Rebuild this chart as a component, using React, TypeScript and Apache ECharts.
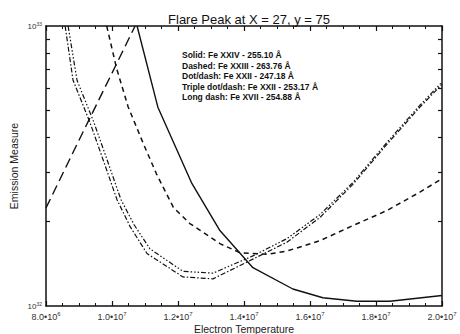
import React, { useEffect, useRef } from 'react';
import * as echarts from 'echarts';

const TITLE = 'Flare Peak at X = 27, y = 75';
const X_NAME = 'Electron Temperature';
const Y_NAME = 'Emission Measure';

// Temperatures in units of 1e6 K, emission measures in units of 1e32
const SOLID_T = [10.76, 11.39, 12.42, 13.27, 14.27, 15.48, 16.39, 17.42, 18.42, 20.0];
const SOLID_EM = [10, 5.13, 2.74, 1.86, 1.37, 1.15, 1.07, 1.04, 1.04, 1.09];

const DASHED_T = [9.84, 10.14, 10.49, 10.95, 11.35, 11.86, 12.36, 13.27, 13.88, 14.69, 15.29, 16.3, 17.31, 18.32, 19.33, 20.0];
const DASHED_EM = [10, 7.05, 5.14, 3.8, 2.96, 2.25, 1.97, 1.67, 1.55, 1.53, 1.57, 1.71, 1.94, 2.19, 2.55, 2.85];

const DOTDASH_T = [8.58, 8.82, 9.33, 9.73, 10.15, 10.55, 11.06, 12.15, 13.06, 14.27, 15.3, 16.3, 17.3, 18.33, 19.33, 20.0];
const DOTDASH_EM = [10, 6.4, 4.53, 3.33, 2.4, 1.92, 1.54, 1.27, 1.25, 1.47, 1.69, 2.07, 2.72, 3.78, 5.13, 6.19];

const TRIPLE_T = [8.67, 8.94, 9.45, 9.85, 10.27, 10.67, 11.15, 12.15, 13.06, 14.27, 15.3, 16.3, 17.3, 18.33, 19.33, 20.0];
const TRIPLE_EM = [10, 6.4, 4.53, 3.33, 2.4, 1.95, 1.6, 1.33, 1.31, 1.51, 1.74, 2.12, 2.76, 3.84, 5.21, 6.3];

const LONG_T = [8.0, 9.0, 10.0, 10.7];
const LONG_EM = [2.24, 3.91, 6.79, 10];

const LEGEND_LINES = [
  'Solid: Fe XXIV - 255.10 Å',
  'Dashed: Fe XXIII - 263.76 Å',
  'Dot/dash: Fe XXII - 247.18 Å',
  'Triple dot/dash: Fe XXII - 253.17 Å',
  'Long dash: Fe XVII - 254.88 Å',
];

const Y_MINOR = [2, 3, 4, 5, 6, 7, 8, 9];

const FONT = '"Liberation Sans", Arial, Helvetica, sans-serif';
const INK = '#111';

const pairs = (t: number[], em: number[]) => t.map((v, i) => [v * 1e6, em[i] * 1e32]);

const xLabel = (v: number) => {
  const e = Math.floor(Math.log10(v) + 1e-9);
  const m = v / Math.pow(10, e);
  return `{m|${m.toFixed(1)}•10}{e|${e}}`;
};
const yLabel = (v: number) => `{m|10}{e|${Math.round(Math.log10(v))}}`;

const xAxisBase = (pos: 'bottom' | 'top', labels: boolean) => ({
  type: 'value',
  position: pos,
  min: 8e6,
  max: 2e7,
  interval: 2e6,
  axisLine: { show: true, onZero: false, lineStyle: { color: INK, width: 1.5 } },
  axisTick: { show: true, inside: true, length: 5, lineStyle: { color: INK, width: 1.2 } },
  minorTick: { show: true, splitNumber: 4, length: 3, lineStyle: { color: INK, width: 1 } },
  splitLine: { show: false },
  minorSplitLine: { show: false },
  axisLabel: labels
    ? {
        show: true,
        margin: 5,
        formatter: xLabel,
        rich: {
          m: { fontSize: 9, color: '#333', fontFamily: FONT, lineHeight: 11 },
          e: { fontSize: 6, color: '#333', fontFamily: FONT, verticalAlign: 'top', lineHeight: 6 },
        },
      }
    : { show: false },
});

const tickAxis = (pos: 'left' | 'right', line: boolean) => ({
  type: 'value',
  position: pos,
  min: 0,
  max: 1,
  axisLine: { show: line, onZero: false, lineStyle: { color: INK, width: 1.5 } },
  axisTick: {
    show: true,
    inside: true,
    length: 4,
    customValues: Y_MINOR.map((k) => Math.log10(k)),
    lineStyle: { color: INK, width: 1.2 },
  },
  axisLabel: { show: false },
  splitLine: { show: false },
});

export default function App() {
  const ref = useRef<HTMLDivElement>(null);
  useEffect(() => {
    if (!ref.current) return;
    const chart = echarts.init(ref.current, undefined, { renderer: 'svg' });
    const line = (name: string, data: number[][], type: any, width: number) => ({
      name,
      type: 'line',
      data,
      showSymbol: false,
      symbol: 'none',
      clip: true,
      xAxisIndex: 0,
      yAxisIndex: 0,
      lineStyle: { color: INK, width, type },
    });
    chart.setOption({
      animation: false,
      backgroundColor: '#fff',
      title: {
        text: TITLE,
        left: 244,
        top: 8,
        textAlign: 'center',
        textStyle: { fontSize: 13, fontWeight: 'normal', color: '#111', fontFamily: FONT },
      },
      grid: { left: 46, right: 18, top: 26, bottom: 28, outerBoundsMode: 'none', containLabel: false },
      xAxis: [xAxisBase('bottom', true), xAxisBase('top', false)],
      yAxis: [
        {
          type: 'log',
          logBase: 10,
          min: 1e32,
          max: 1e33,
          position: 'left',
          axisLine: { show: true, onZero: false, lineStyle: { color: INK, width: 1.5 } },
          axisTick: { show: false },
          splitLine: { show: false },
          axisLabel: {
            show: true,
            margin: 4,
            formatter: yLabel,
            rich: {
              m: { fontSize: 8, color: '#333', fontFamily: FONT, lineHeight: 10 },
              e: { fontSize: 5, color: '#333', fontFamily: FONT, verticalAlign: 'top', lineHeight: 5 },
            },
          },
        },
        tickAxis('left', false),
        tickAxis('right', true),
      ],
      graphic: [
        ...LEGEND_LINES.map((t, i) => ({
          type: 'text',
          x: 182,
          y: 55 + i * 10.5,
          silent: true,
          style: {
            text: t,
            fontSize: 8.5,
            fontWeight: 'bold',
            fontFamily: FONT,
            fill: '#111',
            verticalAlign: 'middle',
          },
        })),
        {
          type: 'text',
          x: 244,
          y: 329,
          silent: true,
          style: { text: X_NAME, fontSize: 10.5, fontFamily: FONT, fill: '#222', align: 'center', verticalAlign: 'middle' },
        },
        {
          type: 'text',
          x: 14,
          y: 166,
          rotation: Math.PI / 2,
          silent: true,
          style: { text: Y_NAME, fontSize: 10.5, fontFamily: FONT, fill: '#222', align: 'center', verticalAlign: 'middle' },
        },
      ],
      series: [
        line('Solid', pairs(SOLID_T, SOLID_EM), 'solid', 1.4),
        line('Dashed', pairs(DASHED_T, DASHED_EM), [5, 4], 1.5),
        line('Dot/dash', pairs(DOTDASH_T, DOTDASH_EM), [5, 2, 1.5, 2], 1.2),
        line('Triple dot/dash', pairs(TRIPLE_T, TRIPLE_EM), [5, 2, 1.5, 2, 1.5, 2, 1.5, 2], 1.2),
        line('Long dash', pairs(LONG_T, LONG_EM), [10, 5], 1.4),
      ],
    });
    return () => chart.dispose();
  }, []);
  return <div ref={ref} style={{ width: 460, height: 334, position: 'absolute', left: 0, top: 0 }} />;
}
